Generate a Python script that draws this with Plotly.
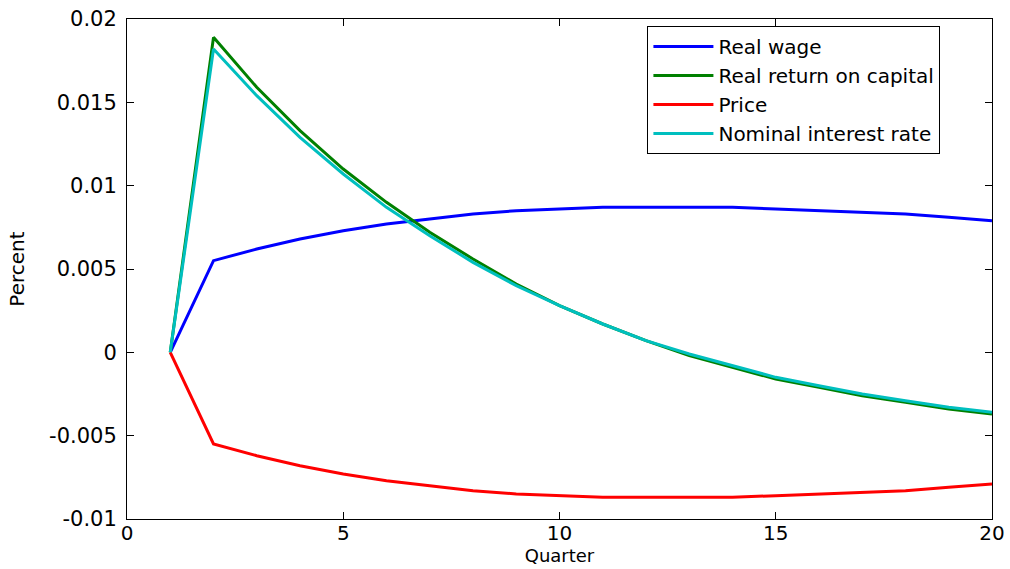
import plotly.graph_objects as go

# Impulse responses by quarter
quarters = list(range(1, 21))
real_wage = [0, 0.0055, 0.0062, 0.0068, 0.0073, 0.0077, 0.0080, 0.0083, 0.0085, 0.0086,
             0.0087, 0.0087, 0.0087, 0.0087, 0.0086, 0.0085, 0.0084, 0.0083, 0.0081, 0.0079]
real_return = [0, 0.0189, 0.0159, 0.0133, 0.0110, 0.0090, 0.0072, 0.0056, 0.0041, 0.0028,
               0.0017, 0.0007, -0.0002, -0.0009, -0.0016, -0.0021, -0.0026, -0.0030, -0.0034, -0.0037]
price = [0, -0.0055, -0.0062, -0.0068, -0.0073, -0.0077, -0.0080, -0.0083, -0.0085, -0.0086,
         -0.0087, -0.0087, -0.0087, -0.0087, -0.0086, -0.0085, -0.0084, -0.0083, -0.0081, -0.0079]
nominal_rate = [0, 0.0182, 0.0154, 0.0129, 0.0107, 0.0087, 0.0070, 0.0054, 0.0040, 0.0028,
                0.0017, 0.0007, -0.0001, -0.0008, -0.0015, -0.0020, -0.0025, -0.0029, -0.0033, -0.0036]

series = [
    ("Real wage", real_wage, "#0000ff"),
    ("Real return on capital", real_return, "#008000"),
    ("Price", price, "#ff0000"),
    ("Nominal interest rate", nominal_rate, "#00bfbf"),
]

x_ticks = [0, 5, 10, 15, 20]
y_ticks = [-0.01, -0.005, 0, 0.005, 0.01, 0.015, 0.02]
y_tick_text = ["-0.01", "-0.005", "0", "0.005", "0.01", "0.015", "0.02"]

FONT = "DejaVu Sans"

fig = go.Figure()
for name, vals, color in series:
    fig.add_trace(go.Scatter(x=quarters, y=vals, mode="lines", name=name,
                             line=dict(color=color, width=3)))

axis_common = dict(
    showline=True, linecolor="black", linewidth=1, mirror="allticks",
    ticks="inside", ticklen=7, tickwidth=1, tickcolor="black",
    showgrid=False, zeroline=False, automargin=False,
)

fig.update_layout(
    width=1010, height=569,
    margin=dict(l=127, r=18, t=19, b=50),
    paper_bgcolor="white", plot_bgcolor="white",
    xaxis=dict(range=[0, 20], tickvals=x_ticks, ticklabelstandoff=-4,
               tickfont=dict(family=FONT, size=20, color="black"),
               title=dict(text="Quarter", font=dict(family=FONT, size=18, color="black"), standoff=3),
               **axis_common),
    yaxis=dict(range=[-0.01, 0.02], tickvals=y_ticks, ticktext=y_tick_text, ticklabelstandoff=5,
               tickfont=dict(family=FONT, size=21, color="black"),
               title=dict(text="Percent", font=dict(family=FONT, size=20, color="black"), standoff=19),
               **axis_common),
    legend=dict(x=0.771, y=0.986, xanchor="center", yanchor="top",
                bgcolor="white", bordercolor="black", borderwidth=1,
                itemwidth=60, tracegroupgap=0,
                font=dict(family=FONT, size=20, color="black")),
    showlegend=True,
)

fig.write_html("out.html")
